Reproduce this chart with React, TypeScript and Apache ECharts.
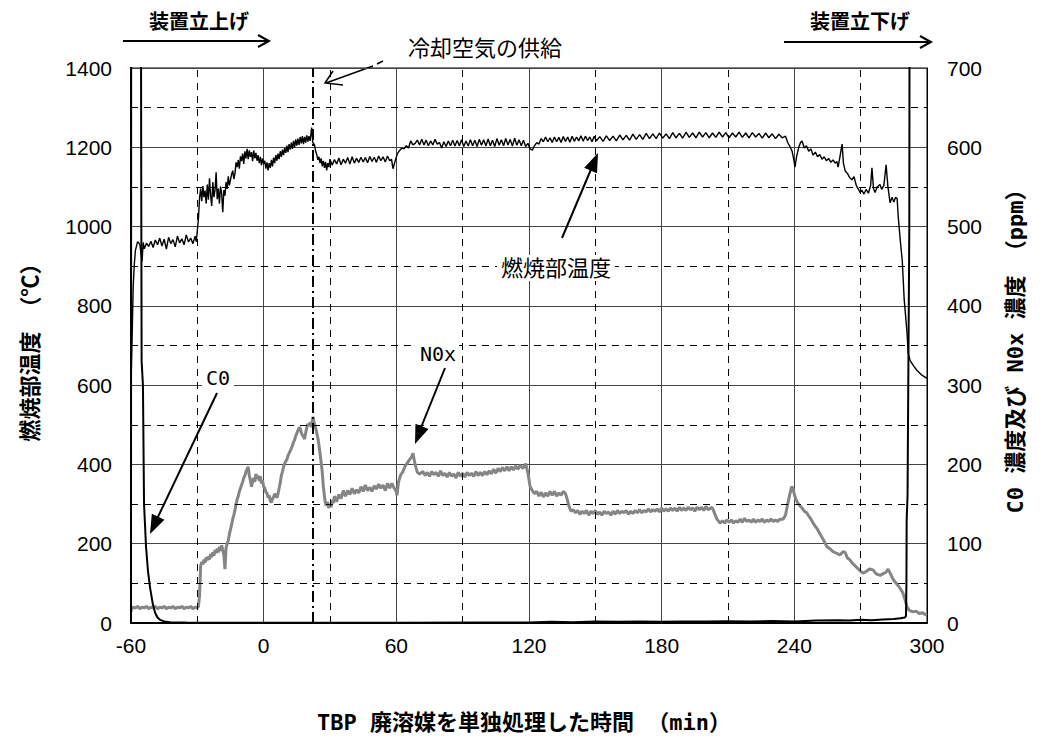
import React, { useEffect, useRef } from "react";
import * as echarts from "echarts";

// x: time (min), left axis temperature (°C), right axis ppm
const xTicks = [-60, 0, 60, 120, 180, 240, 300];
const tempTicks = [0, 200, 400, 600, 800, 1000, 1200, 1400];
const ppmTicks = [0, 100, 200, 300, 400, 500, 600, 700];
const coolingAirTime = 22;

const temperature: [number, number][] = [
  [-60, 600], [-59.5, 720], [-59, 850], [-58.5, 905], [-58, 940], [-57, 962], [-56, 955], [-55, 912],
  [-54.5, 960], [-54, 944], [-53, 958], [-52, 950], [-51, 963], [-50, 947], [-49, 966], [-48, 954],
  [-47, 971], [-46, 951], [-45, 968], [-44, 943], [-43, 973], [-42, 957], [-41, 967], [-40, 949],
  [-39, 976], [-38, 959], [-37, 969], [-36, 954], [-35, 979], [-34, 961], [-33, 971], [-32, 957],
  [-31, 976], [-30.5, 962], [-30, 990], [-29.5, 1020], [-29, 1072], [-28.5, 1096], [-28, 1064],
  [-27.5, 1102], [-27, 1074], [-26.5, 1091], [-26, 1058], [-25.5, 1106], [-25, 1068], [-24.5, 1122],
  [-24, 1079], [-23.5, 1052], [-23, 1112], [-22.5, 1074], [-22, 1092], [-21.5, 1137], [-21, 1069],
  [-20.5, 1096], [-20, 1058], [-19.5, 1101], [-19, 1084], [-18.5, 1036], [-18, 1092], [-17.5, 1078],
  [-17, 1112], [-16.5, 1095], [-16, 1127], [-15.5, 1104], [-15, 1118], [-14.5, 1132], [-14, 1141],
  [-13.5, 1120], [-13, 1133], [-12.5, 1162], [-12, 1150], [-11.5, 1168], [-11, 1146], [-10.5, 1177],
  [-10, 1165], [-9.5, 1184], [-9, 1158], [-8.5, 1190], [-8, 1172], [-7.5, 1196], [-7, 1170],
  [-6.5, 1192], [-6, 1176], [-5.5, 1188], [-5, 1165], [-4.5, 1192], [-4, 1172], [-3.5, 1186],
  [-3, 1166], [-2.5, 1180], [-2, 1160], [-1.5, 1176], [-1, 1155], [-0.5, 1172], [0, 1158],
  [0.5, 1166], [1, 1146], [1.5, 1162], [2, 1142], [2.5, 1160], [3, 1148], [3.5, 1168], [4, 1152],
  [4.5, 1174], [5, 1160], [5.5, 1180], [6, 1166], [6.5, 1184], [7, 1170], [7.5, 1190], [8, 1176],
  [8.5, 1194], [9, 1180], [9.5, 1198], [10, 1186], [10.5, 1204], [11, 1188], [11.5, 1208], [12, 1194],
  [12.5, 1212], [13, 1196], [13.5, 1216], [14, 1200], [14.5, 1220], [15, 1204], [15.5, 1222],
  [16, 1206], [16.5, 1226], [17, 1210], [17.5, 1228], [18, 1208], [18.5, 1226], [19, 1212],
  [19.5, 1230], [20, 1214], [20.5, 1228], [21, 1216], [21.7, 1250], [22.2, 1212], [23, 1206],
  [23.5, 1190], [24, 1182], [24.5, 1168], [25, 1176], [25.5, 1160], [26, 1172], [26.5, 1152],
  [27, 1166], [27.5, 1148], [28, 1163], [28.5, 1142], [29, 1160], [29.5, 1150], [30, 1170],
  [31, 1155], [32, 1169], [33, 1158], [34, 1173], [35, 1156], [36, 1170], [37, 1160], [38, 1174],
  [39, 1158], [40, 1176], [41, 1160], [42, 1172], [43, 1162], [44, 1175], [45, 1163], [46, 1174],
  [47, 1161], [48, 1177], [49, 1164], [50, 1175], [51, 1162], [52, 1178], [53, 1166], [54, 1176],
  [55, 1163], [56, 1178], [57, 1166], [57.8, 1170], [58.5, 1146], [59.5, 1166], [60.5, 1184],
  [61.5, 1192], [62.5, 1198], [63.5, 1196], [64.5, 1204], [65.5, 1198], [66.5, 1216], [67.5, 1206],
  [68.5, 1210], [69.5, 1218], [70.5, 1206], [71.5, 1220], [72.5, 1206], [73.5, 1218], [74.5, 1204],
  [75.5, 1216], [76.5, 1206], [77.5, 1220], [78.5, 1208], [79.5, 1212], [80.5, 1198], [81.5, 1214],
  [82.5, 1202], [83.5, 1216], [84.5, 1204], [85.5, 1218], [86.5, 1203], [87.5, 1217], [88.5, 1204],
  [89.5, 1219], [90.5, 1202], [91.5, 1216], [92.5, 1203], [93.5, 1219], [94.5, 1204], [95.5, 1218],
  [96.5, 1202], [97.5, 1220], [98.5, 1205], [99.5, 1219], [100.5, 1203], [101.5, 1221],
  [102.5, 1204], [103.5, 1218], [104.5, 1202], [105.5, 1222], [106.5, 1205], [107.5, 1219],
  [108.5, 1204], [109.5, 1222], [110.5, 1206], [111.5, 1220], [112.5, 1203], [113.5, 1223],
  [114.5, 1205], [115.5, 1219], [116.5, 1204], [117.5, 1218], [118.5, 1202], [119.5, 1210],
  [120.5, 1196], [121.5, 1193], [122.5, 1204], [123.5, 1212], [124.5, 1208], [125.5, 1222],
  [126.5, 1214], [127.5, 1226], [128.5, 1214], [129.5, 1224], [130.5, 1212], [131.5, 1226],
  [132.5, 1214], [133.5, 1225], [134.5, 1212], [135.5, 1227], [136.5, 1215], [137.5, 1226],
  [138.5, 1213], [139.5, 1228], [140.5, 1215], [141.5, 1226], [142.5, 1216], [143.5, 1229],
  [144.5, 1215], [145.5, 1228], [146.5, 1217], [147.5, 1226], [148.5, 1214], [149.5, 1228],
  [150.5, 1216], [152, 1227], [153.5, 1215], [155, 1229], [156.5, 1217], [158, 1228], [159.5, 1216],
  [161, 1231], [162.5, 1219], [164, 1230], [165.5, 1218], [167, 1233], [168.5, 1220], [170, 1232],
  [171.5, 1220], [173, 1235], [174.5, 1222], [176, 1234], [177.5, 1222], [179, 1236], [180.5, 1223],
  [182, 1234], [183.5, 1222], [185, 1237], [186.5, 1224], [188, 1235], [189.5, 1223], [191, 1238],
  [192.5, 1225], [194, 1236], [195.5, 1224], [197, 1238], [198.5, 1226], [200, 1237], [201.5, 1224],
  [203, 1236], [204.5, 1225], [206, 1238], [207.5, 1226], [209, 1237], [210.5, 1224], [212, 1236],
  [213.5, 1226], [215, 1238], [216.5, 1225], [218, 1236], [219.5, 1224], [221, 1237], [222.5, 1226],
  [224, 1235], [225.5, 1223], [227, 1236], [228.5, 1224], [230, 1234], [231.5, 1222], [233, 1233],
  [234.5, 1224], [236, 1228], [237, 1212], [238, 1202], [239, 1190], [239.7, 1170], [240.3, 1150],
  [241, 1176], [242, 1200], [242.8, 1212], [243.5, 1216], [244.5, 1198], [245.5, 1204], [246.5, 1190],
  [247.5, 1196], [248.5, 1180], [249.5, 1188], [250.5, 1176], [251.5, 1182], [252.5, 1170],
  [253.5, 1176], [254.5, 1166], [255.5, 1172], [256.5, 1162], [257.5, 1168], [258.5, 1160],
  [259.3, 1164], [259.8, 1150], [260.5, 1172], [261.6, 1208], [262.2, 1160], [263, 1140],
  [264, 1134], [265, 1124], [266, 1118], [267, 1126], [268, 1104], [269, 1094], [269.7, 1086],
  [270.5, 1092], [271.5, 1082], [272.5, 1094], [273.5, 1084], [274.5, 1104], [275.1, 1148],
  [275.8, 1096], [276.5, 1086], [277.5, 1100], [278.7, 1106], [279.5, 1094], [280.5, 1104],
  [281.5, 1156], [282.3, 1102], [283.3, 1060], [284.2, 1074], [285, 1062], [285.8, 1074],
  [286.5, 1070], [287, 1024], [288, 960], [288.8, 915], [289.7, 815], [291, 730], [291.5, 680],
  [292.4, 662], [294, 648], [295.5, 637], [297.5, 626], [300, 617],
];

const nox: [number, number][] = [
  [-60, 14], [-59.5, 20], [-58, 19], [-57, 21], [-56, 18], [-55, 20], [-54, 19], [-53, 21], [-52, 18],
  [-51, 20], [-50, 19], [-49, 21], [-48, 18], [-47, 20], [-46, 19], [-45, 21], [-44, 18], [-43, 20],
  [-42, 19], [-41, 21], [-40, 18], [-39, 20], [-38, 19], [-37, 21], [-36, 18], [-35, 20], [-34, 19],
  [-33, 21], [-32, 18], [-31, 20], [-30, 19], [-29.5, 21], [-29, 35], [-28.5, 72], [-28, 77],
  [-27.5, 74], [-27, 80], [-26.5, 76], [-26, 83], [-25.5, 79], [-25, 84], [-24.5, 80], [-24, 87],
  [-23.5, 83], [-23, 89], [-22.5, 85], [-22, 92], [-21.5, 88], [-21, 94], [-20.5, 89], [-20, 96],
  [-19.5, 91], [-19, 98], [-18.5, 92], [-18, 86], [-17.5, 68], [-17, 95], [-16.5, 100], [-16, 104],
  [-15.5, 112], [-15, 118], [-14.5, 124], [-14, 131], [-13.5, 136], [-13, 142], [-12.5, 150],
  [-12, 156], [-11.5, 160], [-11, 166], [-10.5, 170], [-10, 174], [-9.5, 178], [-9, 183],
  [-8.5, 186], [-8, 191], [-7.5, 194], [-7, 197], [-6.5, 186], [-6, 180], [-5.5, 172], [-5, 178],
  [-4.5, 183], [-4, 178], [-3.5, 188], [-3, 182], [-2.5, 186], [-2, 179], [-1.5, 185], [-1, 176],
  [-0.5, 180], [0, 172], [0.5, 170], [1, 165], [1.5, 164], [2, 158], [2.5, 161], [3, 154], [3.5, 152],
  [4, 157], [4.5, 159], [5, 163], [5.5, 161], [6, 158], [6.5, 163], [7, 170], [7.5, 177], [8, 186],
  [8.5, 191], [9, 197], [9.5, 201], [10, 204], [10.5, 206], [11, 211], [11.5, 214], [12, 217],
  [12.5, 220], [13, 224], [13.5, 228], [14, 231], [14.5, 236], [15, 239], [15.5, 243], [16, 246],
  [16.5, 246], [17, 240], [17.5, 237], [18, 235], [18.5, 232], [19, 240], [19.5, 246], [20, 251],
  [20.5, 249], [21, 253], [21.5, 247], [22, 255], [22.3, 260], [23, 251], [23.5, 246], [24, 240],
  [24.6, 232], [25.5, 214], [26.4, 193], [27, 172], [27.7, 155], [28.2, 148], [28.8, 153], [29.4, 145],
  [30, 150], [30.5, 146], [31, 155], [31.5, 151], [32, 160], [33, 153], [34, 162], [35, 157],
  [36, 167], [37, 160], [38, 167], [39, 162], [40, 170], [41, 163], [42, 168], [43, 164], [44, 172],
  [45, 166], [46, 174], [47, 167], [48, 171], [49, 166], [50, 173], [51, 169], [52, 175], [53, 170],
  [54, 174], [55, 167], [56, 176], [57, 170], [58, 176], [59, 170], [59.8, 167], [60.3, 161],
  [61, 178], [62, 187], [63, 191], [64, 198], [65, 202], [66, 206], [67, 210], [67.5, 214],
  [68.5, 200], [69.5, 190], [70.5, 188], [72, 191], [73, 186], [74, 190], [75, 185], [76, 191],
  [77, 187], [78, 190], [79, 185], [80, 192], [81, 186], [82, 189], [83, 184], [84, 190], [85, 185],
  [86, 188], [87, 183], [88, 190], [89, 185], [90, 189], [91, 184], [92, 190], [93, 186], [94, 189],
  [95, 185], [96, 191], [97, 186], [98, 190], [99, 186], [100, 191], [101, 187], [102, 192],
  [103, 188], [104, 194], [105, 189], [106, 195], [107, 191], [108, 196], [109, 192], [110, 197],
  [111, 192], [112, 197], [113, 193], [114, 198], [115, 194], [116, 199], [117.3, 195], [118.5, 201],
  [119.6, 188], [120.5, 172], [121.5, 167], [122.5, 163], [123.5, 166], [124.5, 160], [125.5, 165],
  [126.5, 159], [127.5, 164], [128.5, 160], [129.5, 166], [130.5, 161], [131.5, 166], [132.5, 160],
  [133.5, 164], [134.5, 161], [135.5, 166], [136.5, 163], [137.2, 157], [138, 148], [139, 141],
  [140, 143], [141, 139], [142, 142], [143, 137], [144, 141], [145, 138], [146, 142], [147, 136],
  [148, 141], [149, 138], [150, 142], [151, 137], [152, 140], [153, 136], [154, 141], [155, 138],
  [156, 140], [157, 136], [158, 141], [159, 137], [160, 142], [161, 138], [162, 141], [163, 139],
  [164, 142], [165, 137], [166, 141], [167, 138], [168, 142], [169, 139], [170, 143], [171, 139],
  [172, 142], [173, 140], [174, 144], [175, 140], [176, 143], [177, 141], [178, 144], [179, 140],
  [180, 145], [181, 141], [182, 144], [183, 141], [184, 145], [185, 142], [186, 145], [187, 141],
  [188, 146], [189, 142], [190, 145], [191, 142], [192, 146], [193, 143], [194, 145], [195, 141],
  [196, 146], [197, 143], [198, 146], [199, 142], [200, 147], [201, 143], [202.8, 146], [204, 138],
  [205, 131], [206.4, 126], [207.5, 129], [208.5, 126], [209.5, 130], [210.5, 127], [211.5, 130],
  [212.5, 126], [213.5, 129], [214.5, 127], [215.5, 131], [216.5, 127], [217.5, 132], [218.5, 128],
  [219.5, 130], [220.5, 127], [221.5, 131], [222.5, 127], [223.5, 130], [224.5, 128], [225.5, 131],
  [226.5, 127], [227.5, 130], [228.5, 128], [229.5, 131], [230.5, 128], [231.5, 130], [232.5, 128],
  [233.5, 131], [234.9, 131], [236, 136], [237, 150], [238, 163], [238.8, 172], [239.4, 170],
  [240, 162], [240.7, 156], [241.6, 151], [242.5, 148], [243.5, 145], [244.5, 141], [245.6, 139],
  [246.5, 135], [247.5, 131], [248.5, 126], [249.5, 122], [250.5, 118], [251.5, 113], [252.5, 108],
  [253.5, 103], [254.8, 96], [256, 94], [257.5, 90], [259, 88], [260.7, 86], [262, 90], [263, 89],
  [264, 82], [265, 80], [266.1, 76], [267.5, 72], [269, 68], [270, 65], [271.1, 63], [272.5, 65],
  [274, 68], [275.6, 67], [277, 62], [278.8, 60], [280, 62], [281.5, 64], [282.4, 68], [283.5, 62],
  [284.5, 56], [285.5, 52], [287, 47], [288, 43], [289.1, 38], [290, 30], [291, 20], [292, 16],
  [293.7, 14], [295, 15], [296.5, 12], [298, 13], [299, 11], [300, 10],
];

const co: [number, number][] = [
  [-60, 0], [-59.9, 1000], [-55.6, 1000], [-55.4, 600], [-55.2, 330], [-54.6, 300], [-54.1, 150],
  [-53.2, 96], [-52.3, 65], [-51.4, 45], [-50.2, 25], [-49.1, 13], [-48, 7], [-46.9, 4], [-45, 2],
  [-42.4, 1], [-35, 0.5], [-20, 0.3], [0, 0.2], [60, 0.3], [100, 0.5], [120, 0.6], [130, 1.5],
  [140, 1], [150, 2], [160, 1.5], [170, 2], [180, 1.5], [190, 2], [200, 1.8], [210, 2.2], [220, 1.8],
  [230, 2.5], [240, 2], [250, 3], [260, 3.5], [265, 3], [270, 4], [275, 3.5], [280, 4.5], [285, 5],
  [288, 6], [290, 7], [290.5, 9], [290.7, 50], [290.8, 130], [291.2, 160], [291.6, 330], [292, 500],
  [292.2, 1000], [300, 1000],
];

const labels = {
  startUp: "装置立上げ",
  shutDown: "装置立下げ",
  coolingAir: "冷却空気の供給",
  tempLabel: "燃焼部温度",
  noxLabel: "N0x",
  coLabel: "C0",
  leftName: "燃焼部温度 （℃）",
  rightName: "C0 濃度及び N0x 濃度 （ppm）",
  xName: "TBP 廃溶媒を単独処理した時間 （min）",
};

const JP = '"DejaVu Sans Mono", "Noto Sans CJK JP", sans-serif';
const NUM = '"Liberation Sans", Arial, sans-serif';

function arrowHead(tipX: number, tipY: number, fromX: number, fromY: number, len: number, half: number) {
  const dx = tipX - fromX;
  const dy = tipY - fromY;
  const d = Math.sqrt(dx * dx + dy * dy);
  const ux = dx / d;
  const uy = dy / d;
  const bx = tipX - ux * len;
  const by = tipY - uy * len;
  return [
    [tipX, tipY],
    [bx - uy * half, by + ux * half],
    [bx + uy * half, by - ux * half],
  ];
}

const plain = (v: number) => String(v);

export default function App() {
  const ref = useRef<HTMLDivElement>(null);

  useEffect(() => {
    if (!ref.current) return;
    const chart = echarts.init(ref.current, null, { renderer: "svg" });

    const dashedX: number[] = [];
    for (let v = -30; v < 300; v += 60) dashedX.push(v);
    const dashedY: number[] = [];
    for (let v = 100; v < 1400; v += 200) dashedY.push(v);

    const dashStyle = { color: "#000", width: 1, type: [7, 6] as any };

    const option: any = {
      animation: false,
      backgroundColor: "#fff",
      grid: { left: 131, right: 117, top: 68, bottom: 119, show: true, borderColor: "#000", borderWidth: 1 },
      xAxis: [
        {
          type: "value",
          min: xTicks[0],
          max: xTicks[xTicks.length - 1],
          interval: 60,
          axisLine: { show: true, onZero: false, lineStyle: { color: "#000", width: 2 } },
          axisTick: { show: false },
          axisLabel: { color: "#000", fontSize: 21, fontFamily: NUM, margin: 12, formatter: plain },
          splitLine: { show: true, lineStyle: { color: "#444", width: 1 } },
        },
      ],
      yAxis: [
        {
          type: "value",
          min: tempTicks[0],
          max: tempTicks[tempTicks.length - 1],
          interval: 200,
          position: "left",
          axisLine: { show: true, onZero: false, lineStyle: { color: "#000", width: 2 } },
          axisTick: { show: false },
          axisLabel: { color: "#000", fontSize: 21, fontFamily: NUM, margin: 19, formatter: plain },
          splitLine: { show: true, lineStyle: { color: "#444", width: 1 } },
        },
        {
          type: "value",
          min: ppmTicks[0],
          max: ppmTicks[ppmTicks.length - 1],
          interval: 100,
          position: "right",
          axisLine: { show: true, onZero: false, lineStyle: { color: "#000", width: 1 } },
          axisTick: { show: false },
          axisLabel: { color: "#000", fontSize: 21, fontFamily: NUM, margin: 20, formatter: plain },
          splitLine: { show: false },
        },
      ],
      series: [
        {
          name: "NOx",
          type: "line",
          yAxisIndex: 1,
          data: nox,
          showSymbol: false,
          clip: true,
          lineStyle: { color: "#858585", width: 3 },
          z: 3,
        },
        {
          name: "temperature",
          type: "line",
          yAxisIndex: 0,
          data: temperature,
          showSymbol: false,
          clip: true,
          lineStyle: { color: "#000", width: 1.4 },
          z: 4,
          markLine: {
            silent: true,
            symbol: "none",
            label: { show: false },
            animation: false,
            data: [
              ...dashedX.map((v) => ({ xAxis: v, lineStyle: dashStyle })),
              ...dashedY.map((v) => ({ yAxis: v, lineStyle: dashStyle })),
              { xAxis: coolingAirTime, lineStyle: { color: "#000", width: 2, type: [11, 4, 2, 4] } },
            ],
          },
        },
        {
          name: "CO",
          type: "line",
          yAxisIndex: 1,
          data: co,
          showSymbol: false,
          clip: true,
          lineStyle: { color: "#000", width: 2 },
          z: 5,
        },
      ],
      graphic: [
        // top-left arrow
        { type: "text", x: 199, y: 22, style: { text: labels.startUp, font: `bold 20px ${JP}`, fill: "#000", align: "center", verticalAlign: "middle" } },
        { type: "line", shape: { x1: 123, y1: 41, x2: 268, y2: 41 }, style: { stroke: "#000", lineWidth: 2 } },
        { type: "polyline", shape: { points: [[258, 35], [269, 41], [258, 47]] }, style: { stroke: "#000", lineWidth: 2, fill: null } },
        // top-right arrow
        { type: "text", x: 860, y: 22, style: { text: labels.shutDown, font: `bold 20px ${JP}`, fill: "#000", align: "center", verticalAlign: "middle" } },
        { type: "line", shape: { x1: 784, y1: 42, x2: 930, y2: 42 }, style: { stroke: "#000", lineWidth: 2 } },
        { type: "polyline", shape: { points: [[920, 36], [931, 42], [920, 48]] }, style: { stroke: "#000", lineWidth: 2, fill: null } },
        // cooling air
        { type: "text", x: 485, y: 48, style: { text: labels.coolingAir, font: `22px ${JP}`, fill: "#000", align: "center", verticalAlign: "middle" } },
        { type: "line", shape: { x1: 383, y1: 61, x2: 377, y2: 64 }, style: { stroke: "#000", lineWidth: 1.5 } },
        { type: "line", shape: { x1: 373, y1: 66, x2: 326, y2: 83 }, style: { stroke: "#000", lineWidth: 1.5 } },
        { type: "polyline", shape: { points: [[333, 71], [325, 83], [343, 85]] }, style: { stroke: "#000", lineWidth: 1.5, fill: null } },
        // temperature label
        { type: "text", x: 556, y: 268, style: { text: labels.tempLabel, font: `22px ${JP}`, fill: "#000", align: "center", verticalAlign: "middle", backgroundColor: "#fff", padding: [2, 4] }, z: 10 },
        { type: "line", shape: { x1: 562, y1: 238, x2: 592, y2: 167 }, style: { stroke: "#000", lineWidth: 2 }, z: 10 },
        { type: "polygon", shape: { points: arrowHead(598, 153, 562, 238, 19, 7) }, style: { fill: "#000" }, z: 10 },
        // NOx label
        { type: "text", x: 438, y: 354, style: { text: labels.noxLabel, font: `20px ${JP}`, fill: "#000", align: "center", verticalAlign: "middle", backgroundColor: "#fff", padding: [1, 3] }, z: 10 },
        { type: "line", shape: { x1: 445, y1: 368, x2: 420, y2: 430 }, style: { stroke: "#000", lineWidth: 2 }, z: 10 },
        { type: "polygon", shape: { points: arrowHead(415, 444, 445, 368, 19, 7) }, style: { fill: "#000" }, z: 10 },
        // CO label
        { type: "text", x: 218, y: 378, style: { text: labels.coLabel, font: `20px ${JP}`, fill: "#000", align: "center", verticalAlign: "middle", backgroundColor: "#fff", padding: [1, 4] }, z: 10 },
        { type: "line", shape: { x1: 217, y1: 393, x2: 156, y2: 521 }, style: { stroke: "#000", lineWidth: 2 }, z: 10 },
        { type: "polygon", shape: { points: arrowHead(150, 534, 217, 393, 19, 7) }, style: { fill: "#000" }, z: 10 },
        // axis names
        { type: "text", x: 30, y: 347, rotation: Math.PI / 2, style: { text: labels.leftName, font: `bold 22px ${JP}`, fill: "#000", align: "center", verticalAlign: "middle" } },
        { type: "text", x: 1015, y: 346, rotation: Math.PI / 2, style: { text: labels.rightName, font: `bold 22px ${JP}`, fill: "#000", align: "center", verticalAlign: "middle" } },
        { type: "text", x: 524, y: 722, style: { text: labels.xName, font: `bold 22px ${JP}`, fill: "#000", align: "center", verticalAlign: "middle" } },
      ],
    };

    chart.setOption(option);
    return () => chart.dispose();
  }, []);

  return <div ref={ref} style={{ width: 1044, height: 742, position: "absolute", left: 0, top: 0 }} />;
}
